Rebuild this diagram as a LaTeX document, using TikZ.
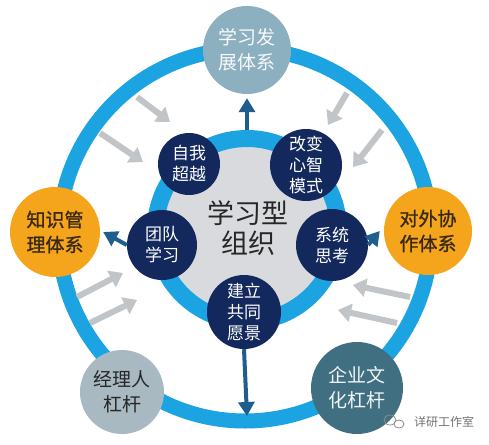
\documentclass[tikz,border=0pt]{standalone}
\usepackage{fontspec}
\usetikzlibrary{arrows.meta}
\newfontfamily\cjk{Noto Sans CJK SC}
\newfontfamily\cjkb{Noto Sans CJK SC}[FakeBold=1.2]
\definecolor{ringblue}{HTML}{1BA3E2}
\definecolor{innergray}{HTML}{D8DADD}
\definecolor{navy}{HTML}{13285C}
\definecolor{topc}{HTML}{8DB0C1}
\definecolor{orangec}{HTML}{F4A51C}
\definecolor{blc}{HTML}{A9B9C2}
\definecolor{brc}{HTML}{3F6F80}
\definecolor{arrowblue}{HTML}{1D5E8E}
\definecolor{graya}{HTML}{C2C5C7}
\definecolor{browntext}{HTML}{3B2A12}
\tikzset{
  outerc/.style={circle, inner sep=0pt, minimum size=#1, align=center,
    font=\cjk\fontsize{19}{25}\selectfont},
  navyc/.style={circle, inner sep=0pt, minimum size=#1, fill=navy, text=white, align=center,
    font=\cjk\fontsize{17}{21}\selectfont},
  bluearrow/.style={draw=arrowblue, line width=4pt, -{Triangle[length=14pt,width=16pt]}},
  grayarrow/.style={draw=graya, line width=6pt, -{Triangle[length=13pt,width=18pt]}},
}
\begin{document}
\begin{tikzpicture}[x=1pt,y=-1pt]
\useasboundingbox[fill=white] (0,0) rectangle (489,444);
% outer ring
\node[circle, draw=ringblue, line width=15pt, minimum size=372pt, inner sep=0pt] (ring) at (245,235) {};
% inner disc
\node[circle, draw=ringblue, line width=17pt, fill=innergray, minimum size=183pt, inner sep=0pt] (inner) at (247,230) {};
% gray arrows
\coordinate (g1s) at (137,97);  \coordinate (g1e) at (170,122);
\coordinate (g2s) at (100,133); \coordinate (g2e) at (143,162);
\coordinate (g3s) at (347,93);  \coordinate (g3e) at (328,125);
\coordinate (g4s) at (382,130); \coordinate (g4e) at (353,167);
\coordinate (g5s) at (77,297);  \coordinate (g5e) at (123,273);
\coordinate (g6s) at (90,323);  \coordinate (g6e) at (137,300);
\coordinate (g7s) at (410,297); \coordinate (g7e) at (353,285);
\coordinate (g8s) at (397,323); \coordinate (g8e) at (338,310);
\foreach \i in {1,...,8} { \draw[grayarrow] (g\i s) -- (g\i e); }
% center text
\node[font=\cjk\fontsize{27}{30}\selectfont, align=center, text=black!85] (center) at (248,228) {学习型\\组织};
% outer circles
\node[outerc=88pt, fill=topc, text=white!92!topc] (top) at (247,50) {学习发\\展体系};
\node[outerc=90pt, fill=orangec, text=browntext, font=\cjkb\fontsize{19}{25}\selectfont] (left) at (55,232) {知识管\\理体系};
\node[outerc=88pt, fill=orangec, text=browntext, font=\cjkb\fontsize{19}{25}\selectfont] (right) at (428,231) {对外协\\作体系};
\node[outerc=84pt, fill=blc, text=black!85] (bl) at (122,392) {经理人\\杠杆};
\node[outerc=92pt, fill=brc, text=white!92!brc] (br) at (357,388) {企业文\\化杠杆};
% navy circles
\node[navyc=62pt] (zwcy) at (189,164) {自我\\超越};
\node[navyc=72pt] (gbxz) at (306,165) {改变\\心智\\模式};
\node[navyc=70pt] (tdxx) at (162,245) {团队\\学习};
\node[navyc=72pt] (xtsk) at (332,245) {系统\\思考};
\node[navyc=74pt] (jlgt) at (244,312) {建立\\共同\\愿景};
% blue arrows
\coordinate (downend) at (247,416);
\draw[bluearrow] (inner.north) -- ([yshift=-4pt]top.south);
\draw[bluearrow] (tdxx.west) -- ([xshift=3pt]left.east);
\draw[bluearrow] (xtsk.east) -- ([xshift=-4pt]right.west);
\draw[bluearrow] (jlgt.south) -- (downend);
% watermark
\node[font=\cjk\fontsize{12}{12}\selectfont, text=black!55] (wm) at (444,422) {详研工作室};
\draw[black!45, line width=0.8pt] (390,420) ellipse (6pt and 5pt);
\draw[black!45, line width=0.8pt, fill=white] (399,424) ellipse (5pt and 4pt);
\end{tikzpicture}
\end{document}
